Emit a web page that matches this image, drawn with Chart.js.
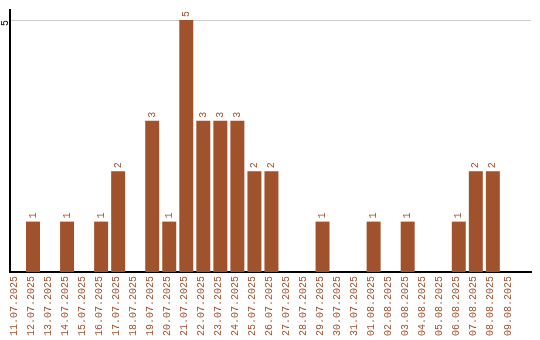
<!DOCTYPE html>
<html lang="en">
<head>
    <meta charset="UTF-8">
    <title>Daily counts</title>
    <script src="https://cdn.jsdelivr.net/npm/chart.js"></script>
    <style>
        html, body { margin: 0; padding: 0; background: #fff; }
        #wrap { width: 540px; height: 340px; }
    </style>
</head>
<body>
    <div id="wrap"><canvas id="countChart"></canvas></div>

    <script>
        const dates = ['11.07.2025', '12.07.2025', '13.07.2025', '14.07.2025', '15.07.2025',
            '16.07.2025', '17.07.2025', '18.07.2025', '19.07.2025', '20.07.2025',
            '21.07.2025', '22.07.2025', '23.07.2025', '24.07.2025', '25.07.2025',
            '26.07.2025', '27.07.2025', '28.07.2025', '29.07.2025', '30.07.2025',
            '31.07.2025', '01.08.2025', '02.08.2025', '03.08.2025', '04.08.2025',
            '05.08.2025', '06.08.2025', '07.08.2025', '08.08.2025', '09.08.2025'];
        const counts = [0, 1, 0, 1, 0, 1, 2, 0, 3, 1,
            5, 3, 3, 3, 2, 2, 0, 0, 1, 0,
            0, 1, 0, 1, 0, 0, 1, 2, 2, 0];
        const yTicks = [5];

        const barColor = '#a0522d';
        const fontFamily = '"Liberation Mono", "DejaVu Sans Mono", monospace';
        const monoFont = '10px ' + fontFamily;

        // value labels above bars + rotated y tick label
        const labelPlugin = {
            id: 'labels',
            afterDatasetsDraw(chart) {
                const ctx = chart.ctx;
                const meta = chart.getDatasetMeta(0);
                ctx.save();
                ctx.font = monoFont;
                ctx.fillStyle = barColor;
                ctx.textAlign = 'left';
                ctx.textBaseline = 'middle';
                meta.data.forEach((bar, i) => {
                    if (!counts[i]) return;
                    ctx.save();
                    ctx.translate(bar.x, bar.y - 3);
                    ctx.rotate(-Math.PI / 2);
                    ctx.fillText(String(counts[i]), 0, 0);
                    ctx.restore();
                });
                const y = chart.scales.y;
                ctx.fillStyle = '#000';
                ctx.textAlign = 'right';
                yTicks.forEach(t => {
                    ctx.save();
                    ctx.translate(5, y.getPixelForValue(t));
                    ctx.rotate(-Math.PI / 2);
                    ctx.fillText(String(t), 0, 0);
                    ctx.restore();
                });
                ctx.restore();
            }
        };

        const ctx = document.getElementById('countChart').getContext('2d');
        const chart = new Chart(ctx, {
            type: 'bar',
            data: {
                datasets: [{
                    data: counts.map((v, i) => ({ x: i, y: v })),
                    backgroundColor: barColor,
                    borderWidth: 0,
                    categoryPercentage: 1,
                    barPercentage: 0.82
                }]
            },
            options: {
                responsive: true,
                maintainAspectRatio: false,
                animation: false,
                layout: { padding: { left: 10, right: 9, top: 10, bottom: 0 } },
                plugins: {
                    legend: { display: false },
                    tooltip: { enabled: false }
                },
                scales: {
                    x: {
                        type: 'linear',
                        min: -0.35,
                        max: 30.24,
                        offset: false,
                        afterBuildTicks: (scale) => {
                            scale.ticks = dates.map((d, i) => ({ value: i }));
                        },
                        grid: { display: false, drawTicks: false },
                        border: { color: '#000', width: 2 },
                        ticks: {
                            color: barColor,
                            font: { family: fontFamily, size: 10 },
                            minRotation: 90,
                            maxRotation: 90,
                            autoSkip: false,
                            padding: 4,
                            labelOffset: -2,
                            callback: (value) => dates[value]
                        }
                    },
                    y: {
                        min: 0,
                        max: 5.2,
                        afterBuildTicks: (scale) => {
                            scale.ticks = yTicks.map(v => ({ value: v }));
                        },
                        grid: {
                            color: '#cccccc',
                            drawTicks: false
                        },
                        border: { color: '#000', width: 2 },
                        ticks: { display: false }
                    }
                }
            },
            plugins: [labelPlugin]
        });
    </script>
</body>
</html>
